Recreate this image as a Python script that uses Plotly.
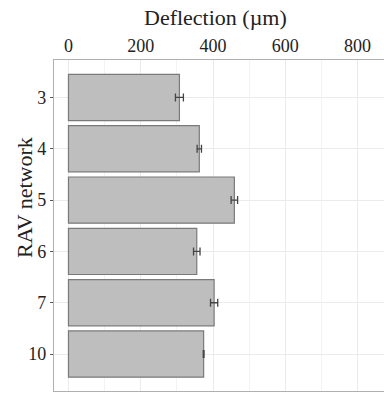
import plotly.graph_objects as go

categories = ["3", "4", "5", "6", "7", "10"]
deflection = [307, 362, 459, 355, 403, 374]
errors = [11, 6, 9, 9, 10, 1]
x_ticks = [0, 200, 400, 600, 800]

fig = go.Figure()
fig.add_trace(go.Bar(
    y=categories, x=deflection, orientation="h",
    marker=dict(color="#BEBEBE", line=dict(color="#7a7a7a", width=1.2)),
    error_x=dict(type="data", array=errors, color="#444444", thickness=1.3, width=4),
    width=0.9,
))

font_family = "Liberation Serif"
fig.update_layout(
    width=384, height=394,
    margin=dict(l=54, r=0, t=60, b=3),
    plot_bgcolor="white", paper_bgcolor="white",
    showlegend=False,
    font=dict(family=font_family, size=18, color="#222222"),
    xaxis=dict(
        side="top", range=[-40, 873], automargin=False,
        tickvals=x_ticks, ticktext=[str(v) for v in x_ticks],
        showgrid=True, gridcolor="#EBEBEB", gridwidth=1,
        minor=dict(dtick=100, showgrid=True, gridcolor="#F3F3F3", gridwidth=1),
        showline=True, linecolor="#B0B0B0", linewidth=1.2, mirror=True,
        ticks="", zeroline=False,
        tickfont=dict(family=font_family, size=18),
        title=None,
    ),
    yaxis=dict(
        categoryorder="array", categoryarray=categories,
        range=[5.72, -0.73], autorange=False, automargin=False,
        showgrid=True, gridcolor="#EBEBEB", gridwidth=1,
        showline=True, linecolor="#B0B0B0", linewidth=1.2,
        ticks="outside", ticklen=3, tickcolor="#555555",
        tickfont=dict(family=font_family, size=18),
        title=None,
    ),
    annotations=[
        dict(
            text="Deflection (µm)", xref="paper", yref="paper",
            x=0.488, y=1.127, xanchor="center", yanchor="middle", showarrow=False,
            font=dict(family=font_family, size=22, color="#222222"),
        ),
        dict(
            text="RAV network", textangle=-90, xref="paper", yref="paper",
            x=-0.091, y=0.586, xanchor="center", yanchor="middle", showarrow=False,
            font=dict(family=font_family, size=22, color="#222222"),
        ),
    ],
)

fig.write_html(
    "out.html",
    config={"displayModeBar": False},
    post_script="document.body.style.margin='0';document.body.style.overflow='hidden';",
)
